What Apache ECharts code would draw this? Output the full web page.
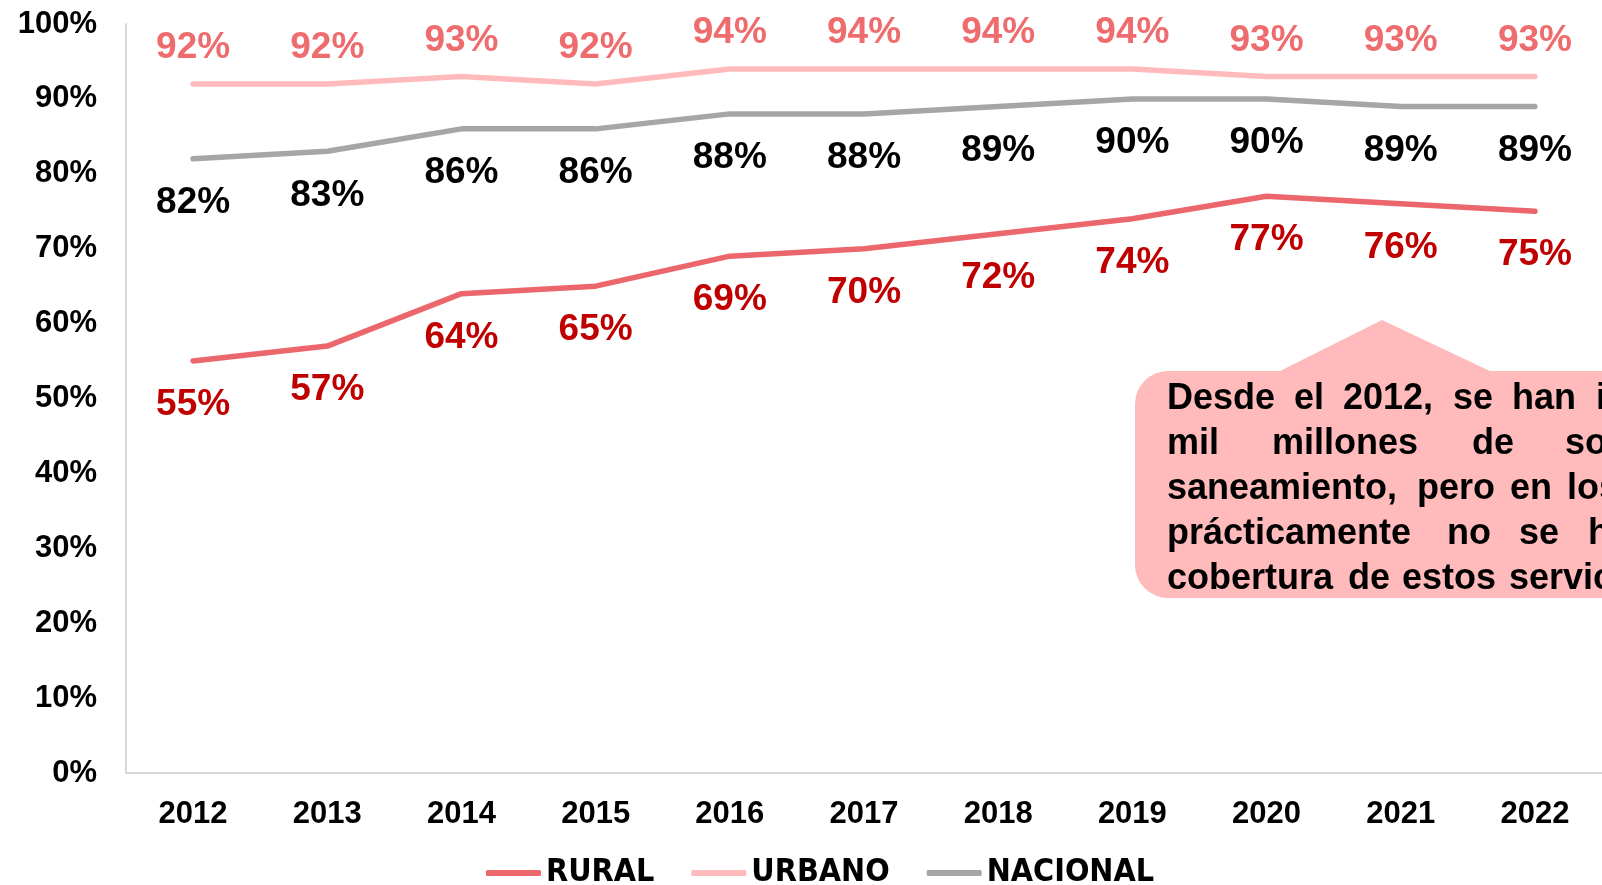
<!DOCTYPE html>
<html>
<head>
<meta charset="utf-8">
<title>Cobertura de saneamiento</title>
<script src="https://cdn.jsdelivr.net/npm/echarts@6/dist/echarts.min.js"></script>
<style>
    html, body { margin: 0; padding: 0; background: #fff; }
    #main { width: 1602px; height: 885px; }
</style>
</head>
<body>
<div id="main"></div>
<script>
// datos (%)
var anios = ['2012', '2013', '2014', '2015', '2016', '2017', '2018', '2019', '2020', '2021', '2022'];
var rural = [55, 57, 64, 65, 69, 70, 72, 74, 77, 76, 75];
var urbano = [92, 92, 93, 92, 94, 94, 94, 94, 93, 93, 93];
var nacional = [82, 83, 86, 86, 88, 88, 89, 90, 90, 89, 89];
var nombres = ['RURAL', 'URBANO', 'NACIONAL'];

var fuente = '"Liberation Sans", Arial, sans-serif';
var fuenteNarrow = '"Liberation Sans Narrow", "Arial Narrow", "DejaVu Sans Condensed", sans-serif';

// texto del recuadro, palabra y posicion x (justificado)
var nota = [
    [['Desde', 1167], ['el', 1294], ['2012,', 1343], ['se', 1453], ['han', 1512], ['invertido', 1596]],
    [['mil', 1167], ['millones', 1272], ['de', 1472], ['soles', 1565]],
    [['saneamiento,', 1167], ['pero', 1417], ['en', 1510], ['los', 1567]],
    [['prácticamente', 1167], ['no', 1447], ['se', 1519], ['ha', 1588]],
    [['cobertura', 1167], ['de', 1348], ['estos', 1402], ['servicios.', 1509]]
];

var graficos = [
    {
        type: 'polygon',
        z: 100,
        shape: { points: [[1278, 372], [1382, 320], [1492, 372]] },
        style: { fill: '#FFBBBB' }
    },
    {
        type: 'rect',
        z: 100,
        shape: { x: 1135, y: 371, width: 620, height: 227, r: 33 },
        style: { fill: '#FFBBBB' }
    }
];
nota.forEach(function (linea, i) {
    linea.forEach(function (p) {
        graficos.push({
            type: 'text',
            z: 101,
            x: p[1],
            y: 399 + i * 45,
            style: {
                text: p[0],
                font: 'bold 36px ' + fuente,
                fill: '#000',
                verticalAlign: 'middle'
            }
        });
    });
});

function serie(nombre, datos, colorLinea, colorTexto, pos, dist) {
    return {
        name: nombre,
        type: 'line',
        data: datos,
        symbol: 'circle',
        symbolSize: 1,
        lineStyle: { color: colorLinea, width: 5.5, cap: 'round', join: 'round' },
        itemStyle: { color: colorLinea },
        label: {
            show: true, position: pos, distance: dist, formatter: '{c}%',
            fontFamily: fuente, fontWeight: 'bold', fontSize: 37, color: colorTexto
        }
    };
}

var myChart = echarts.init(document.getElementById('main'));

var option = {
    animation: false,
    grid: { left: 126, top: 24, width: 1479, height: 749 },
    legend: {
        data: nombres,
        left: 486,
        top: 857,
        padding: 0,
        icon: 'roundRect',
        itemWidth: 55,
        itemHeight: 6,
        itemGap: 37,
        textStyle: { fontFamily: fuenteNarrow, fontWeight: 'bold', fontSize: 32, color: '#000' }
    },
    xAxis: {
        type: 'category',
        data: anios,
        axisLine: { lineStyle: { color: '#D9D9D9', width: 2 } },
        axisTick: { show: false },
        axisLabel: { margin: 26, fontFamily: fuente, fontWeight: 'bold', fontSize: 31, color: '#000' }
    },
    yAxis: {
        type: 'value',
        min: 0,
        max: 100,
        interval: 10,
        splitLine: { show: false },
        axisLine: { show: true, lineStyle: { color: '#D9D9D9', width: 2 } },
        axisLabel: { margin: 29, formatter: '{value}%', fontFamily: fuente, fontWeight: 'bold', fontSize: 31, color: '#000' }
    },
    series: [
        serie('RURAL', rural, '#EC676B', '#C00000', 'bottom', 25),
        serie('URBANO', urbano, '#FFBBBB', '#EE6B6E', 'top', 17),
        serie('NACIONAL', nacional, '#A6A6A6', '#000', 'bottom', 25)
    ],
    graphic: graficos
};

myChart.setOption(option);
</script>
</body>
</html>
